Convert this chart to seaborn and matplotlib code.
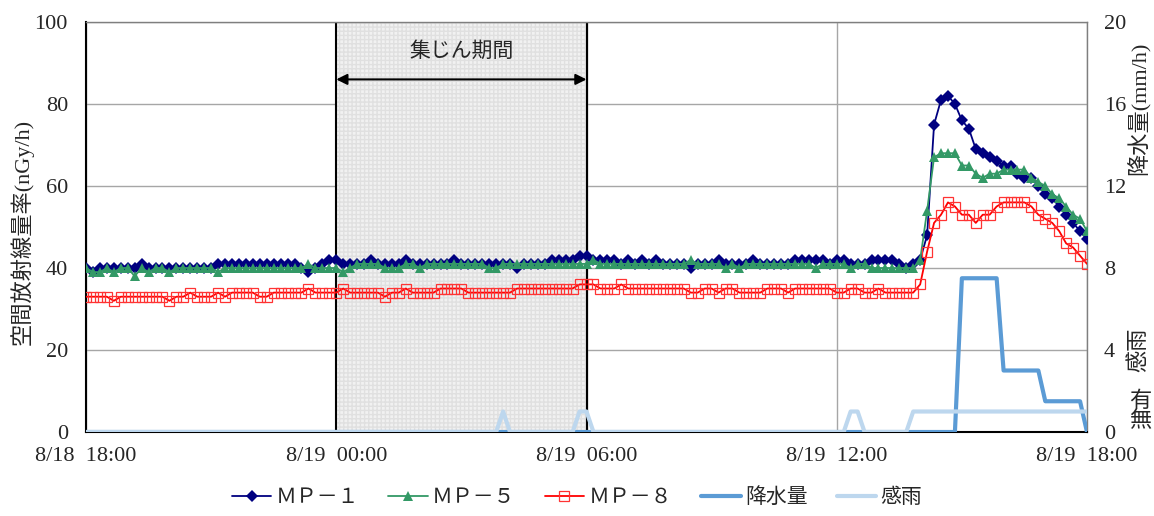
import numpy as np
import pandas as pd
import matplotlib
matplotlib.use("Agg")
import matplotlib.pyplot as plt
from matplotlib.patches import Rectangle
import seaborn as sns

# 10-minute readings, 8/18 18:00 -> 8/19 18:00 (145 samples)
mp1 = [40, 39, 40, 40, 40, 40, 40, 40, 41, 40,
       40, 40, 40, 40, 40, 40, 40, 40, 40, 41,
       41, 41, 41, 41, 41, 41, 41, 41, 41, 41,
       41, 40, 39, 40, 41, 42, 42, 41, 41, 41,
       41, 42, 41, 41, 41, 41, 42, 41, 41, 41,
       41, 41, 41, 42, 41, 41, 41, 41, 41, 41,
       41, 41, 40, 41, 41, 41, 41, 42, 42, 42,
       42, 43, 43, 42, 42, 42, 42, 41, 42, 41,
       42, 41, 42, 41, 41, 41, 41, 40, 41, 41,
       41, 42, 41, 41, 41, 41, 42, 41, 41, 41,
       41, 41, 42, 42, 42, 42, 42, 41, 42, 42,
       41, 41, 41, 42, 42, 42, 42, 41, 40, 41,
       42, 48, 75, 81, 82, 80, 76, 74, 69, 68,
       67, 66, 65, 65, 63, 62, 62, 60, 58, 57,
       55, 53, 51, 49, 47]

mp5 = [40, 39, 39, 40, 39, 40, 40, 38, 40, 39,
       40, 40, 39, 40, 40, 40, 40, 40, 40, 39,
       40, 40, 40, 40, 40, 40, 40, 40, 40, 40,
       40, 40, 41, 40, 40, 40, 40, 39, 40, 41,
       41, 41, 41, 40, 40, 40, 41, 41, 40, 41,
       41, 41, 41, 41, 41, 41, 41, 41, 40, 40,
       41, 41, 41, 41, 41, 41, 41, 41, 41, 41,
       41, 41, 41, 42, 41, 41, 41, 41, 41, 41,
       41, 41, 41, 41, 41, 41, 41, 42, 41, 41,
       41, 41, 40, 41, 40, 41, 41, 41, 41, 41,
       41, 41, 41, 41, 41, 40, 41, 41, 41, 41,
       40, 41, 41, 40, 40, 40, 40, 40, 40, 40,
       42, 54, 67, 68, 68, 68, 65, 65, 63, 62,
       63, 63, 64, 64, 64, 64, 62, 61, 60, 58,
       57, 55, 53, 52, 49]

mp8 = [33, 33, 33, 33, 32, 33, 33, 33, 33, 33,
       33, 33, 32, 33, 33, 34, 33, 33, 33, 34,
       33, 34, 34, 34, 34, 33, 33, 34, 34, 34,
       34, 34, 35, 34, 34, 34, 34, 35, 34, 34,
       34, 34, 34, 33, 34, 34, 35, 34, 34, 34,
       34, 35, 35, 35, 35, 34, 34, 34, 34, 34,
       34, 34, 35, 35, 35, 35, 35, 35, 35, 35,
       35, 36, 36, 36, 35, 35, 35, 36, 35, 35,
       35, 35, 35, 35, 35, 35, 35, 34, 34, 35,
       35, 34, 35, 35, 34, 34, 34, 34, 35, 35,
       35, 34, 35, 35, 35, 35, 35, 35, 34, 34,
       35, 35, 34, 34, 35, 34, 34, 34, 34, 34,
       36, 44, 51, 53, 56, 55, 53, 53, 51, 53,
       53, 55, 56, 56, 56, 56, 55, 53, 52, 51,
       49, 46, 45, 43, 41]

# precipitation (mm/h)
rain = [0, 0, 0, 0, 0, 0, 0, 0, 0, 0,
        0, 0, 0, 0, 0, 0, 0, 0, 0, 0,
        0, 0, 0, 0, 0, 0, 0, 0, 0, 0,
        0, 0, 0, 0, 0, 0, 0, 0, 0, 0,
        0, 0, 0, 0, 0, 0, 0, 0, 0, 0,
        0, 0, 0, 0, 0, 0, 0, 0, 0, 0,
        0, 0, 0, 0, 0, 0, 0, 0, 0, 0,
        0, 0, 0, 0, 0, 0, 0, 0, 0, 0,
        0, 0, 0, 0, 0, 0, 0, 0, 0, 0,
        0, 0, 0, 0, 0, 0, 0, 0, 0, 0,
        0, 0, 0, 0, 0, 0, 0, 0, 0, 0,
        0, 0, 0, 0, 0, 0, 0, 0, 0, 0,
        0, 0, 0, 0, 0, 0, 7.5, 7.5, 7.5, 7.5,
        7.5, 7.5, 3, 3, 3, 3, 3, 3, 1.5, 1.5,
        1.5, 1.5, 1.5, 1.5, 0]

# rain sensor: 0 = 無, 1 = 有
sensor = [0, 0, 0, 0, 0, 0, 0, 0, 0, 0,
          0, 0, 0, 0, 0, 0, 0, 0, 0, 0,
          0, 0, 0, 0, 0, 0, 0, 0, 0, 0,
          0, 0, 0, 0, 0, 0, 0, 0, 0, 0,
          0, 0, 0, 0, 0, 0, 0, 0, 0, 0,
          0, 0, 0, 0, 0, 0, 0, 0, 0, 0,
          1, 0, 0, 0, 0, 0, 0, 0, 0, 0,
          0, 1, 1, 0, 0, 0, 0, 0, 0, 0,
          0, 0, 0, 0, 0, 0, 0, 0, 0, 0,
          0, 0, 0, 0, 0, 0, 0, 0, 0, 0,
          0, 0, 0, 0, 0, 0, 0, 0, 0, 0,
          1, 1, 0, 0, 0, 0, 0, 0, 0, 1,
          1, 1, 1, 1, 1, 1, 1, 1, 1, 1,
          1, 1, 1, 1, 1, 1, 1, 1, 1, 1,
          1, 1, 1, 1, 1]

tick_labels = ["8/18  18:00", "8/19  00:00", "8/19  06:00", "8/19  12:00", "8/19  18:00"]
series_labels = ["ＭＰ－１", "ＭＰ－５", "ＭＰ－８", "降水量", "感雨"]

hours = np.arange(len(mp1)) / 6.0   # elapsed hours since 18:00
df = pd.DataFrame({"h": hours, "mp1": mp1, "mp5": mp5, "mp8": mp8,
                   "rain": rain, "sensor": sensor})

sns.set_style("white")
plt.rcParams["font.family"] = ["Liberation Serif", "Noto Sans CJK JP"]
plt.rcParams["axes.unicode_minus"] = False

W, H = 1154, 516
fig = plt.figure(figsize=(W / 100, H / 100), dpi=100)
ax = fig.add_axes([86 / W, (H - 432) / H, 1001 / W, 410 / H])

# collection period box
ax.add_patch(Rectangle((6, 0), 6, 100, facecolor="#f1f1f1", edgecolor="#e0e0e0",
                       hatch="++++", linewidth=0, zorder=1.2))
ax.add_patch(Rectangle((6, 0), 6, 100, fill=False, edgecolor="black",
                       linewidth=1.5, zorder=1.3))
ax.annotate("", xy=(6, 86), xytext=(12, 86),
            arrowprops=dict(arrowstyle="<|-|>", color="black", lw=1.5,
                            mutation_scale=16, shrinkA=0, shrinkB=0), zorder=4)
ax.text(9, 93, "集じん期間", ha="center", va="center", fontsize=15,
        family=["Noto Sans CJK JP"], color="#262626", zorder=4)

sns.lineplot(data=df, x="h", y="mp1", ax=ax, color="#000080", lw=1.3,
             marker="D", markersize=6.3, markeredgewidth=0, label=series_labels[0], zorder=3)
sns.lineplot(data=df, x="h", y="mp5", ax=ax, color="#339966", lw=1.3,
             marker="^", markersize=7.8, markeredgewidth=0, label=series_labels[1], zorder=3)
sns.lineplot(data=df, x="h", y="mp8", ax=ax, color="#FF0000", lw=1.3,
             marker="s", markersize=7.6, markerfacecolor="none", markeredgecolor="#FF3333",
             markeredgewidth=0.9, label=series_labels[2], zorder=3)

ax.set_xlim(0, 24)
ax.set_ylim(0, 100)
ax.set_xticks([0, 6, 12, 18, 24])
ax.set_xticklabels(tick_labels)
ax.set_yticks([0, 20, 40, 60, 80, 100])
ax.set_xlabel("")
ax.set_ylabel("")
ax.grid(True, color="#a6a6a6", lw=1)
ax.set_axisbelow(True)
ax.tick_params(axis="y", length=0, labelsize=16, pad=13)
ax.tick_params(axis="x", length=0, labelsize=16, pad=11, colors="#262626")
ax.tick_params(axis="y", colors="#262626")
for side in ["left", "bottom"]:
    ax.spines[side].set_color("black")
    ax.spines[side].set_linewidth(1.5)
for side in ["top", "right"]:
    ax.spines[side].set_color("#7f7f7f")
    ax.spines[side].set_linewidth(1.0)

ax2 = ax.twinx()
sns.lineplot(data=df, x="h", y="rain", ax=ax2, color="#5B9BD5", lw=3,
             label=series_labels[3])
sns.lineplot(data=df, x="h", y="sensor", ax=ax2, color="#BDD7EE", lw=3,
             label=series_labels[4])
ax2.set_ylim(0, 20)
ax2.set_yticks([0, 4, 8, 12, 16, 20])
ax2.set_ylabel("")
ax2.tick_params(axis="y", length=0, labelsize=16, pad=12, colors="#262626")
for s in ax2.spines.values():
    s.set_visible(False)
ax2.grid(False)

h1, l1 = ax.get_legend_handles_labels()
h2, l2 = ax2.get_legend_handles_labels()
ax.get_legend().remove()
ax2.get_legend().remove()
fig.legend(h1 + h2, l1 + l2, loc="center", bbox_to_anchor=(0.5, 1 - 497 / H), ncol=5,
           frameon=False, handlelength=1.9, handletextpad=0.2,
           columnspacing=1.4, prop={"family": ["Noto Sans CJK JP"], "size": 15})

# axis titles
fig.text(22 / W, 1 - 232 / H, "空間放射線量率(nGy/h)", rotation=90, ha="center",
         va="center", fontsize=16, color="#262626")
fig.text(1139 / W, 1 - 108 / H, "降水量(mm/h)", rotation=90, ha="center",
         va="center", fontsize=16, color="#262626")
fig.text(1139 / W, 1 - 350 / H, "感雨", rotation=90, ha="center",
         va="center", fontsize=16, color="#262626")
fig.text(1140 / W, 1 - 402 / H, "有", ha="center", va="center", fontsize=16,
         color="#262626")
fig.text(1140 / W, 1 - 422 / H, "無", ha="center", va="center", fontsize=16,
         color="#262626")

fig.savefig("out.png", dpi=100)
